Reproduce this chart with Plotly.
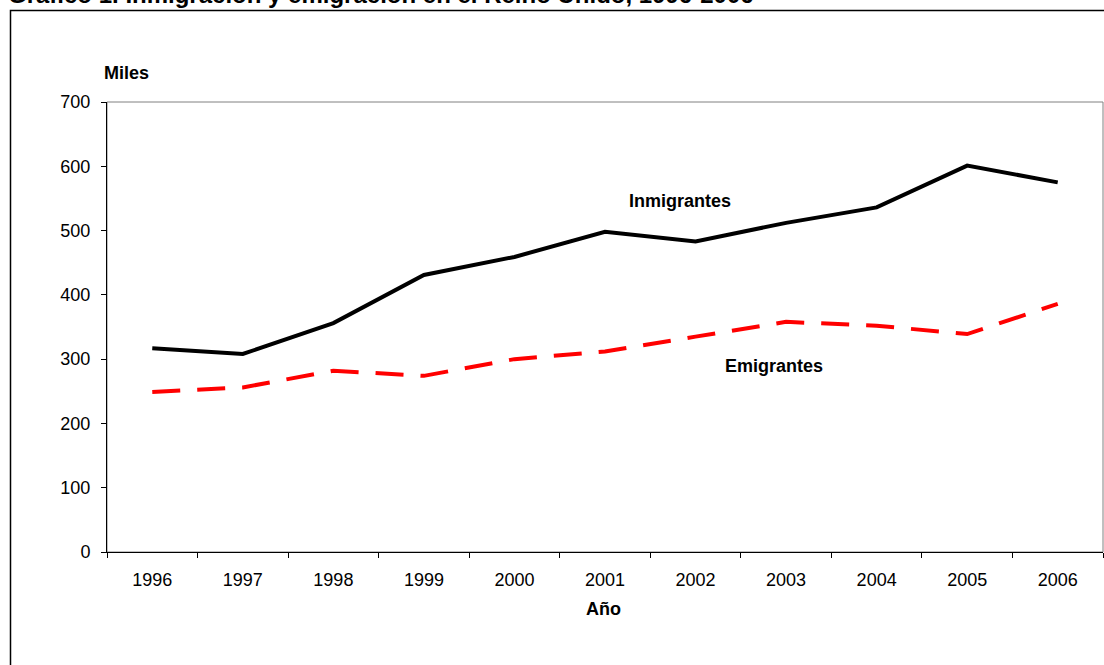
import plotly.graph_objects as go

years = ["1996", "1997", "1998", "1999", "2000", "2001", "2002", "2003", "2004", "2005", "2006"]
inmigrantes = [317, 308, 356, 431, 459, 498, 483, 512, 536, 601, 575]
emigrantes = [249, 256, 282, 274, 300, 312, 335, 358, 352, 339, 386]
y_ticks = [0, 100, 200, 300, 400, 500, 600, 700]

FONT = "Arial, Liberation Sans, sans-serif"
FS = 18

fig = go.Figure()
fig.add_trace(go.Scatter(x=years, y=inmigrantes, mode="lines", name="Inmigrantes",
                         line=dict(color="black", width=4)))
fig.add_trace(go.Scatter(x=years, y=emigrantes, mode="lines", name="Emigrantes",
                         line=dict(color="#ff0000", width=4, dash="28px,17px")))

W, H = 1104, 665
L, R, T, B = 107, 1, 102, 113
pw, ph = W - L - R, H - T - B

def px(xp):
    return (xp - L) / pw

def py(yp):
    return (H - B - yp) / ph

shapes = [
    # plot-area border (gray)
    dict(type="rect", xref="paper", yref="paper", x0=0, x1=1, y0=0, y1=1,
         line=dict(color="#808080", width=1), layer="below"),
    # outer chart frame
    dict(type="rect", xref="paper", yref="paper", x0=px(10.5), x1=px(1110), y0=py(680), y1=py(10.5),
         line=dict(color="black", width=1.5), layer="below"),
]

annotations = [
    dict(text="<b>Gráfico 1. Inmigración y emigración en el Reino Unido, 1996-2006</b>",
         xref="paper", yref="paper", x=px(6), y=py(10), xanchor="left", yanchor="bottom",
         showarrow=False, font=dict(family=FONT, size=24, color="black")),
    dict(text="<b>Miles</b>", xref="paper", yref="paper", x=px(126), y=py(73),
         xanchor="center", yanchor="middle", showarrow=False,
         font=dict(family=FONT, size=FS, color="black")),
    dict(text="<b>Año</b>", xref="paper", yref="paper", x=px(603), y=py(609),
         xanchor="center", yanchor="middle", showarrow=False,
         font=dict(family=FONT, size=FS, color="black")),
    dict(text="<b>Inmigrantes</b>", xref="paper", yref="paper", x=px(679.5), y=py(201),
         xanchor="center", yanchor="middle", showarrow=False,
         font=dict(family=FONT, size=FS, color="black")),
    dict(text="<b>Emigrantes</b>", xref="paper", yref="paper", x=px(774), y=py(366),
         xanchor="center", yanchor="middle", showarrow=False,
         font=dict(family=FONT, size=FS, color="black")),
]

fig.update_layout(
    width=W, height=H,
    margin=dict(l=L, r=R, t=T, b=B, pad=0),
    paper_bgcolor="white", plot_bgcolor="white",
    showlegend=False,
    font=dict(family=FONT, size=FS, color="black"),
    shapes=shapes,
    annotations=annotations,
)
fig.update_xaxes(type="category", range=[-0.5, 10.5], showgrid=False, zeroline=False,
                 showline=True, linecolor="black", linewidth=1,
                 ticks="outside", tickson="boundaries", ticklen=5, tickcolor="black",
                 ticklabelstandoff=11, tickfont=dict(family=FONT, size=FS, color="black"))
fig.update_yaxes(range=[0, 700], tickvals=y_ticks, showgrid=False, zeroline=False,
                 showline=True, linecolor="black", linewidth=1,
                 ticks="outside", ticklen=5, tickcolor="black",
                 ticklabelstandoff=7, tickfont=dict(family=FONT, size=FS, color="black"))

fig.write_html("out.html")
